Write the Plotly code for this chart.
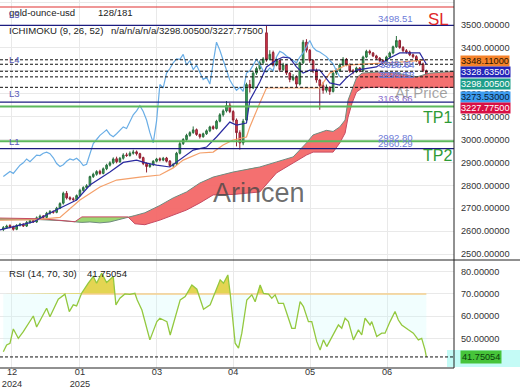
import plotly.graph_objects as go

# ---------------- data ----------------
opens = [2608, 2615, 2624, 2618, 2608, 2625, 2630, 2622, 2638, 2646, 2640, 2658, 2666, 2660, 2678, 2686, 2682, 2700, 2722, 2765,
         2746, 2741, 2738, 2755, 2778, 2790, 2800, 2838, 2848, 2861, 2852, 2872, 2888, 2898, 2916, 2903, 2918, 2933, 2930, 2940,
         2946, 2938, 2921, 2896, 2882, 2890, 2905, 2916, 2910, 2919, 2906, 2886, 2893, 2940, 2982, 3000, 3018, 3030, 3043, 3022,
         3012, 3025, 3038, 3056, 3048, 3080, 3108, 3125, 3150, 3122, 3085, 3030, 2985, 3085, 3240, 3225, 3290, 3310, 3335, 3466,
         3350, 3380, 3325, 3345, 3305, 3325, 3290, 3262, 3272, 3242, 3335, 3425, 3390, 3345, 3300, 3260, 3235, 3215, 3228, 3210,
         3290, 3300, 3325, 3350, 3328, 3300, 3295, 3312, 3300, 3360, 3385, 3378, 3365, 3355, 3345, 3335, 3360, 3378, 3405, 3432,
         3402, 3388, 3382, 3370, 3362, 3345, 3330, 3300]
highs = [2622, 2628, 2630, 2624, 2630, 2636, 2634, 2644, 2652, 2650, 2664, 2672, 2670, 2684, 2692, 2690, 2706, 2726, 2772, 2775,
         2752, 2748, 2760, 2785, 2796, 2805, 2842, 2855, 2866, 2868, 2878, 2894, 2905, 2922, 2925, 2924, 2940, 2942, 2948, 2955,
         2952, 2942, 2925, 2900, 2896, 2910, 2920, 2922, 2924, 2924, 2910, 2896, 2946, 2990, 3006, 3025, 3036, 3057, 3048, 3026,
         3030, 3044, 3060, 3062, 3086, 3115, 3132, 3168, 3160, 3128, 3092, 3040, 3090, 3248, 3260, 3298, 3318, 3345, 3360, 3500,
         3390, 3388, 3360, 3350, 3335, 3330, 3295, 3285, 3280, 3340, 3435, 3438, 3395, 3350, 3310, 3265, 3252, 3240, 3232, 3295,
         3310, 3332, 3360, 3356, 3332, 3308, 3318, 3316, 3366, 3392, 3392, 3382, 3370, 3360, 3350, 3366, 3384, 3410, 3452, 3436,
         3408, 3395, 3388, 3375, 3368, 3350, 3336, 3305]
lows = [2600, 2610, 2612, 2602, 2604, 2620, 2618, 2618, 2632, 2636, 2636, 2652, 2654, 2656, 2672, 2676, 2678, 2696, 2716, 2738,
        2734, 2730, 2734, 2750, 2772, 2784, 2794, 2832, 2842, 2846, 2848, 2866, 2882, 2892, 2896, 2898, 2912, 2924, 2925, 2934,
        2930, 2915, 2888, 2856, 2876, 2884, 2900, 2904, 2905, 2900, 2880, 2878, 2888, 2935, 2976, 2994, 3012, 3025, 3016, 3004,
        3008, 3020, 3032, 3042, 3044, 3075, 3100, 3118, 3115, 3075, 2970, 2956, 2975, 3080, 3205, 3220, 3282, 3302, 3326, 3340,
        3345, 3318, 3320, 3296, 3300, 3282, 3250, 3255, 3228, 3236, 3330, 3380, 3335, 3290, 3248, 3130, 3200, 3205, 3195, 3205,
        3282, 3295, 3320, 3320, 3292, 3285, 3290, 3294, 3296, 3355, 3370, 3360, 3348, 3338, 3325, 3330, 3355, 3372, 3400, 3396,
        3380, 3375, 3364, 3355, 3338, 3322, 3294, 3266]
closes = [2615, 2622, 2618, 2608, 2625, 2630, 2622, 2638, 2645, 2640, 2658, 2665, 2660, 2678, 2685, 2682, 2700, 2720, 2765, 2745,
          2740, 2738, 2755, 2778, 2790, 2798, 2838, 2848, 2860, 2852, 2872, 2888, 2898, 2915, 2903, 2918, 2932, 2930, 2940, 2945,
          2938, 2920, 2895, 2882, 2890, 2905, 2915, 2910, 2918, 2905, 2886, 2892, 2940, 2982, 3000, 3018, 3030, 3042, 3022, 3012,
          3025, 3038, 3055, 3048, 3080, 3108, 3125, 3148, 3122, 3085, 3030, 2985, 3080, 3240, 3225, 3290, 3310, 3335, 3352, 3350,
          3372, 3325, 3345, 3305, 3325, 3290, 3262, 3272, 3242, 3335, 3425, 3390, 3345, 3300, 3260, 3235, 3215, 3228, 3210, 3290,
          3300, 3325, 3350, 3328, 3300, 3295, 3312, 3300, 3360, 3385, 3378, 3365, 3355, 3345, 3335, 3360, 3378, 3405, 3432, 3402,
          3388, 3382, 3370, 3362, 3345, 3330, 3300, 3273.53]

tenkan_x = [-1, 9, 14, 22, 26, 32, 36, 40, 43, 46, 50, 53, 57, 61, 64, 68, 70, 73, 74, 77, 79, 82, 84, 86, 88, 90, 92, 95,
            98, 101, 103, 106, 112, 116, 119, 125, 127]
tenkan = [2605, 2640, 2679, 2736, 2801, 2858, 2900, 2910, 2897, 2888, 2880, 2910, 2954, 2967, 3011, 3076, 3063, 3072, 3172,
          3251, 3317, 3347, 3360, 3356, 3317, 3290, 3303, 3303, 3247, 3238, 3269, 3303, 3317, 3356, 3378, 3378, 3328.635]

kijun_x = [-1, 10, 17, 23, 29, 34, 41, 47, 51, 54, 59, 63, 66, 69, 73, 74, 77, 79, 95, 98, 103, 119, 127]
kijun = [2648, 2650, 2660, 2736, 2793, 2823, 2836, 2845, 2876, 2910, 2941, 2945, 2976, 2998, 3011, 3055, 3159, 3225, 3225,
         3290, 3325, 3338, 3348.11]

span_x = [-1, 5, 11, 17, 21.5, 23.6, 26, 29, 32, 35, 37.4, 39.5, 42.5, 47, 51, 55, 59, 63, 69, 75, 77, 82, 87, 91, 93, 97,
          99, 101, 102.6, 103.5, 104.7, 106, 107.7, 113, 118, 124, 128, 136]
span_a = [2650, 2651, 2650, 2646, 2640, 2638, 2640, 2636, 2640, 2650, 2661, 2668, 2680, 2712, 2745, 2771, 2810, 2836, 2858,
          2876, 2880, 2902, 2924, 2985, 3020, 3040, 3035, 3055, 3085, 3172, 3216, 3269, 3290, 3295, 3290, 3273, 3290, 3298.005]
span_b = [2657, 2656, 2654, 2647, 2641, 2662, 2662, 2662, 2662, 2662, 2662, 2632, 2628, 2648, 2670, 2692, 2723, 2758, 2760,
          2766, 2771, 2854, 2897, 2932, 2945, 2945, 2945, 2985, 3028, 3098, 3159, 3207, 3225, 3229, 3225, 3226, 3227, 3227.775]
chikou_shift = 26

rsi_x = [0, 1.0, 2.0, 3.0, 4.5, 6.0, 9.0, 10.0, 13.0, 14.0, 16.5, 18.5, 19.8, 21.0, 22.0, 23.5, 25.5, 27.0, 28.0, 29.5,
         31.0, 33.0, 33.8, 35.0, 36.5, 38.0, 39.5, 40.2, 41.6, 44.0, 46.1, 47.0, 49.1, 50.1, 53.1, 54.6, 56.6, 58.1, 60.1,
         62.1, 65.1, 66.1, 67.4, 68.1, 69.6, 70.6, 71.6, 73.1, 74.6, 75.6, 77.1, 78.1, 79.6, 80.6, 81.6, 82.6, 84.1, 86.6,
         87.6, 89.1, 90.1, 91.6, 92.6, 94.1, 95.1, 96.1, 97.1, 99.1, 100.6, 101.6, 102.6, 103.6, 105.1, 106.6, 107.6, 108.6,
         110.1, 110.6, 112.1, 113.6, 114.6, 116.1, 117.6, 118.6, 119.6, 121.6, 123.1, 124.6, 125.6, 126.6, 127]
rsi = [44.1, 47.1, 47.9, 54.3, 50.1, 53.1, 60.1, 55.2, 63.6, 59.8, 67.6, 69.9, 62.1, 65.1, 64.6, 70.3, 74.8, 77.8, 74.8,
       79.3, 75.1, 77.8, 65.1, 68.1, 70.0, 69.8, 70.3, 67.3, 62.8, 49.4, 57.6, 59.1, 57.6, 51.6, 67.3, 68.8, 74.0, 72.1, 63.1,
       65.1, 76.3, 74.8, 78.5, 70.3, 47.9, 45.7, 52.4, 67.3, 69.6, 66.5, 74.0, 70.2, 69.9, 68.1, 69.6, 65.8, 65.8, 54.6, 54.6,
       66.5, 64.3, 57.6, 57.6, 48.6, 44.9, 49.4, 46.4, 51.6, 56.1, 54.6, 59.1, 57.6, 49.4, 53.9, 51.6, 59.1, 56.1, 57.6, 50.9,
       52.4, 52.4, 57.6, 62.1, 58.3, 56.1, 53.9, 52.4, 49.4, 50.1, 44.9, 41.75054]
rsi_upper, rsi_lower = 70, 30

tick_pos = [2.6, 23, 46.1, 69, 92.1, 115.2]
tick_text = ["12<br>2024", "01<br>2025", "03", "04", "05", "06"]

level_sl = 3578.6
level_navy = [3498.51, 3163.66, 2960.29]
level_tp = [3144.0, 2992.80]
level_dashed = [3348.11, 3328.635, 3298.005, 3273.53, 3227.775]
level_box_colors = [("#f5822a", "#2a1400"), ("#2424b8", "#ffffff"), ("#1e9e8a", "#ffffff"),
                    ("#3c9cf0", "#0a1a30"), ("#d80f44", "#ffffff")]

assert len(opens) == len(highs) == len(lows) == len(closes)
assert len(span_x) == len(span_a) == len(span_b)
assert len(rsi_x) == len(rsi)
assert len(tenkan_x) == len(tenkan) and len(kijun_x) == len(kijun)

# ---------------- geometry ----------------
W, H = 520, 390
ML, MR, MT, MB = 0, 66, 0, 22
PW, PH = W - ML - MR, H - MT - MB
SPLIT = 1 - 260 / PH
XR = [-1, 135.3]
FONT = "Liberation Sans, Arial, sans-serif"
TXT = 9.6
TICK = 9.2


def px(x):
    return x / PW


def py(y):
    return 1 - y / PH


def with_crossings(xs, ya, yb):
    ox, oa, ob = [], [], []
    for i in range(len(xs)):
        if i > 0:
            d0 = ya[i - 1] - yb[i - 1]
            d1 = ya[i] - yb[i]
            if d0 * d1 < 0:
                t = d0 / (d0 - d1)
                xc = xs[i - 1] + t * (xs[i] - xs[i - 1])
                yc = ya[i - 1] + t * (ya[i] - ya[i - 1])
                ox.append(xc); oa.append(yc); ob.append(yc)
        ox.append(xs[i]); oa.append(ya[i]); ob.append(yb[i])
    return ox, oa, ob


fig = go.Figure()
nohover = dict(hoverinfo="skip", showlegend=False)

# ---- Ichimoku cloud ----
cx, ca, cb = with_crossings(span_x, span_a, span_b)
top = [max(a, b) for a, b in zip(ca, cb)]
fig.add_trace(go.Scatter(x=cx, y=cb, mode="lines", line=dict(width=0), **nohover))
fig.add_trace(go.Scatter(x=cx, y=top, mode="lines", line=dict(width=0), fill="tonexty",
                         fillcolor="rgba(243,100,100,0.92)", **nohover))
fig.add_trace(go.Scatter(x=cx, y=ca, mode="lines", line=dict(width=0), **nohover))
fig.add_trace(go.Scatter(x=cx, y=top, mode="lines", line=dict(width=0), fill="tonexty",
                         fillcolor="rgba(150,212,105,0.95)", **nohover))
fig.add_trace(go.Scatter(x=span_x, y=span_a, mode="lines", line=dict(color="#6f8a7e", width=1), **nohover))
fig.add_trace(go.Scatter(x=span_x, y=span_b, mode="lines", line=dict(color="#c84a62", width=1), **nohover))

# ---- lines ----
fig.add_trace(go.Scatter(x=kijun_x, y=kijun, mode="lines", line=dict(color="#f4a06a", width=1.2), **nohover))
fig.add_trace(go.Scatter(x=[i - chikou_shift for i in range(chikou_shift, len(closes))], y=closes[chikou_shift:],
                         mode="lines", line=dict(color="#6aaee6", width=1.2), **nohover))
fig.add_trace(go.Scatter(x=tenkan_x, y=tenkan, mode="lines", line=dict(color="#2a2aa0", width=1.2), **nohover))

# ---- candles ----
fig.add_trace(go.Candlestick(
    x=list(range(len(closes))), open=opens, high=highs, low=lows, close=closes,
    increasing=dict(fillcolor="#37b05c", line=dict(color="#2b6e3f", width=1)),
    decreasing=dict(fillcolor="#e2364f", line=dict(color="#8e2232", width=1)),
    whiskerwidth=0, hoverinfo="skip", showlegend=False))

# ---- RSI ----
rx, ra, rb = with_crossings(rsi_x, rsi, [rsi_upper] * len(rsi))
r_up = [max(v, rsi_upper) for v in ra]
r_dn = [min(v, rsi_upper) for v in ra]
fig.add_trace(go.Scatter(x=rx, y=rb, mode="lines", line=dict(width=0), xaxis="x2", yaxis="y2", **nohover))
fig.add_trace(go.Scatter(x=rx, y=r_dn, mode="lines", line=dict(width=0), fill="tonexty",
                         fillcolor="rgba(200,250,250,0.25)", xaxis="x2", yaxis="y2", **nohover))
fig.add_trace(go.Scatter(x=rx, y=rb, mode="lines", line=dict(width=0), xaxis="x2", yaxis="y2", **nohover))
fig.add_trace(go.Scatter(x=rx, y=r_up, mode="lines", line=dict(width=0), fill="tonexty",
                         fillcolor="rgba(222,206,52,0.85)", xaxis="x2", yaxis="y2", **nohover))
first_cross = next(x for x, v in zip(rx, ra) if v >= rsi_upper)
fig.add_trace(go.Scatter(x=[first_cross, rsi_x[-1]], y=[rsi_upper, rsi_upper], mode="lines",
                         line=dict(color="#f5cf8e", width=1.5), xaxis="x2", yaxis="y2", **nohover))
fig.add_trace(go.Scatter(x=rsi_x, y=rsi, mode="lines", line=dict(color="#93c83e", width=1.3),
                         xaxis="x2", yaxis="y2", **nohover))

# ---------------- shapes ----------------
shapes = []


def hline(y, color, width, dash="solid", yref="y"):
    shapes.append(dict(type="line", xref="x domain", yref=yref, x0=0, x1=1, y0=y, y1=y,
                       line=dict(color=color, width=width, dash=dash)))


hline(level_sl, "#e03030", 1.2)
for v in level_navy:
    hline(v, "#1c1c80", 1.2)
for v in level_tp:
    hline(v, "#5cb85c", 2)
for v in level_dashed:
    hline(v, "#111111", 1, dash="3px,2px")
shapes.append(dict(type="line", xref="x2 domain", yref="y2", x0=0, x1=1, y0=rsi[-1], y1=rsi[-1],
                   line=dict(color="#111111", width=1, dash="3px,2px")))
# panel frame
shapes.append(dict(type="line", xref="paper", yref="paper", x0=0, x1=W / PW, y0=SPLIT, y1=SPLIT,
                   line=dict(color="#222", width=1)))
shapes.append(dict(type="line", xref="paper", yref="paper", x0=0, x1=1, y0=0, y1=0,
                   line=dict(color="#222", width=1)))
shapes.append(dict(type="line", xref="paper", yref="paper", x0=1, x1=1, y0=0, y1=1,
                   line=dict(color="#222", width=1)))
# cyan backing of the RSI value label
shapes.append(dict(type="rect", xref="paper", yref="paper", x0=px(447), x1=px(520), y0=py(367), y1=py(350),
                   fillcolor="#c4fbf6", line=dict(width=0), layer="below"))

# ---------------- annotations ----------------
ann = []


def text(t, x, y, size=TXT, color="#222", xanchor="left", xref="paper", yref="paper", yshift=0, **kw):
    ann.append(dict(text=t, x=x, y=y, xref=xref, yref=yref, xanchor=xanchor, yanchor="middle",
                    showarrow=False, yshift=yshift, font=dict(family=FONT, size=size, color=color), **kw))


text("gold-ounce-usd", px(7), py(12))
text("128/181", px(96), py(12))
text("ICHIMOKU (9, 26, 52)", px(7), py(30))
text("n/a/n/a/n/a/%.5f/%.5f" % (level_dashed[2], level_dashed[4]), px(109), py(30))
text("RSI (14, %d, %d)" % (rsi_upper, rsi_lower), px(7), py(273))
text("%.5f" % rsi[-1], px(85), py(273))

lvl_col = "#5a5ab8"
text("L5", px(7), level_sl, color=lvl_col, yref="y", yshift=-7)
text("L4", px(7), level_dashed[0], color=lvl_col, yref="y")
text("L3", px(7), level_dashed[4], color=lvl_col, yref="y", yshift=-6)
text("L1", px(7), level_tp[1], color=lvl_col, yref="y")

text("SL", 130.6, level_sl, size=17, color="#e02828", xanchor="center", xref="x", yref="y", yshift=-12)
text("TP1", 130.2, level_tp[0], size=16, color="#2e9a36", xanchor="center", xref="x", yref="y", yshift=-11)
text("TP2", 130.2, level_navy[2], size=16, color="#2e9a36", xanchor="center", xref="x", yref="y", yshift=-7)

lab_col = "#6c7ad8"
text("%.2f" % level_navy[0], 117.6, level_navy[0], color=lab_col, xanchor="center", xref="x", yref="y", yshift=7)
text("%.2f" % level_navy[1], 117.6, level_navy[1], color="#8a6ccc", xanchor="center", xref="x", yref="y", yshift=4)
text("%.2f" % level_tp[1], 117.6, level_tp[1], color=lab_col, xanchor="center", xref="x", yref="y", yshift=4)
text("%.2f" % level_navy[2], 117.6, level_navy[2], color=lab_col, xanchor="center", xref="x", yref="y", yshift=5)
text("%.2f" % level_dashed[0], 117.6, level_dashed[0], color=lab_col, xanchor="center", xref="x", yref="y", yshift=-4)
text("%.2f" % level_dashed[1], 118.2, level_dashed[1], color=lab_col, xanchor="center", xref="x", yref="y")
text("%.2f" % level_dashed[2], 117.6, level_dashed[2], color=lab_col, xanchor="center", xref="x", yref="y", yshift=-3)
text("%.2f" % level_dashed[3], 118.2, level_dashed[3], color=lab_col, xanchor="center", xref="x", yref="y", yshift=2)

text("At Price", px(421), py(92), size=15, color="rgba(105,105,105,0.6)", xanchor="center")
text("Arincen", px(259), py(193), size=27, color="rgba(70,70,70,0.78)", xanchor="center")

# stacked value boxes on the right axis
box_shift = [-1, -8, -13, -20, -21]
for v, (bg, fg), s in zip(level_dashed, level_box_colors, box_shift):
    ann.append(dict(text="%.5f" % v, x=px(460), y=v, xref="paper", yref="y", xanchor="left", yanchor="middle",
                    yshift=s, showarrow=False, bgcolor=bg, borderpad=0,
                    font=dict(family=FONT, size=TICK, color=fg)))
ann.append(dict(text="%.5f" % rsi[-1], x=px(460), y=rsi[-1], xref="paper", yref="y2", xanchor="left",
                yanchor="middle", showarrow=False, bgcolor="#46c43a", borderpad=1,
                font=dict(family=FONT, size=TICK, color="#0b3d0b")))

grid = "#e9e9e9"
tickfont = dict(family=FONT, size=TICK, color="#333")
fig.update_layout(
    width=W, height=H, margin=dict(l=ML, r=MR, t=MT, b=MB, autoexpand=False),
    paper_bgcolor="white", plot_bgcolor="white",
    font=dict(family=FONT, size=TXT, color="#333"),
    showlegend=False,
    xaxis=dict(domain=[0, 1], range=XR, anchor="y", showticklabels=False, tickvals=tick_pos, automargin=False,
               showgrid=True, gridcolor=grid, zeroline=False, rangeslider=dict(visible=False)),
    xaxis2=dict(domain=[0, 1], range=XR, anchor="y2", matches="x", tickvals=tick_pos, ticktext=tick_text,
                automargin=False, showgrid=True, gridcolor=grid, zeroline=False, ticks="", tickfont=tickfont,
                ticklabelstandoff=-3),
    yaxis=dict(domain=[SPLIT, 1], range=[2473.8, 3609.2], side="right", anchor="x", automargin=False,
               tickvals=list(range(2500, 3700, 100)), ticktext=["%.5f" % v for v in range(2500, 3700, 100)],
               showgrid=True, gridcolor=grid, zeroline=False, ticks="", tickfont=tickfont, ticklabelstandoff=6),
    yaxis2=dict(domain=[0, SPLIT], range=[36.8, 85.2], side="right", anchor="x2", automargin=False,
                tickvals=[50, 60, 70, 80], ticktext=["%.5f" % v for v in [50, 60, 70, 80]],
                showgrid=True, gridcolor=grid, zeroline=False, ticks="", tickfont=tickfont, ticklabelstandoff=6),
    shapes=shapes, annotations=ann,
)

fig.write_html("out.html", config={"displayModeBar": False},
               post_script="document.body.style.margin='0';document.body.style.overflow='hidden';")
